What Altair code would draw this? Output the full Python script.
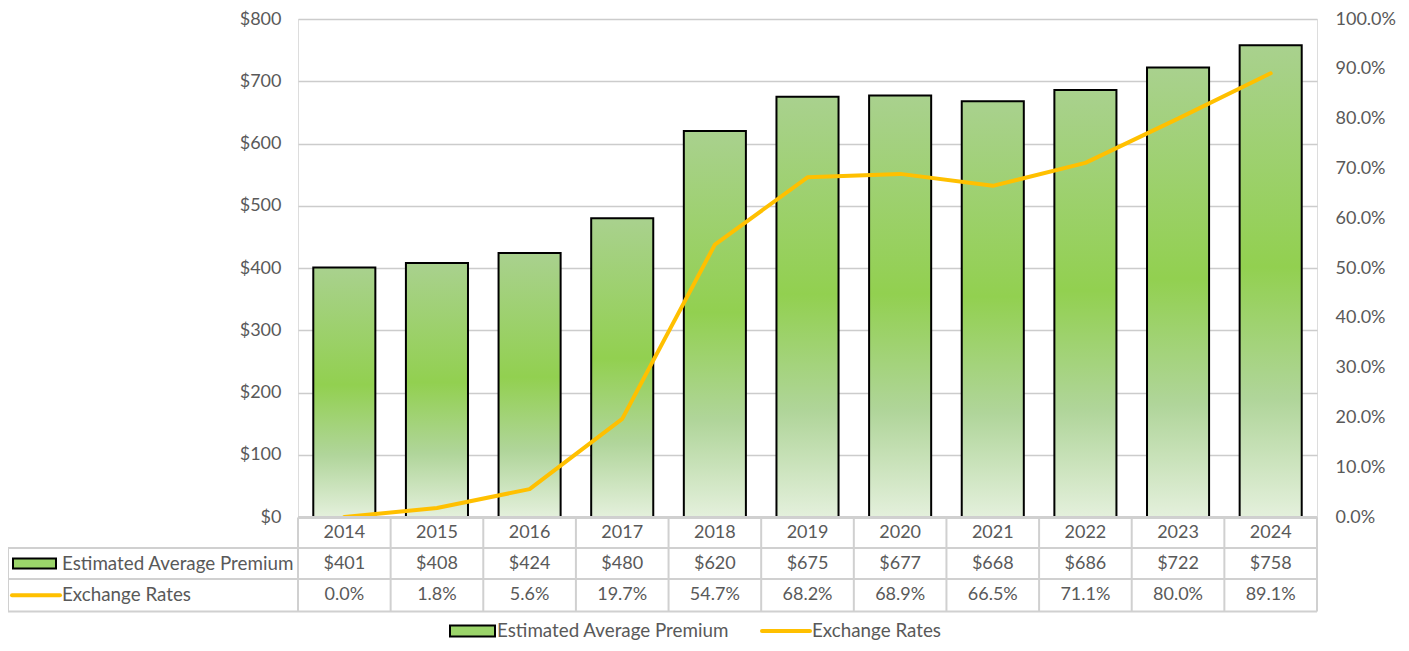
import altair as alt
import pandas as pd

years = ["2014", "2015", "2016", "2017", "2018", "2019", "2020", "2021", "2022", "2023", "2024"]
premium = [401, 408, 424, 480, 620, 675, 677, 668, 686, 722, 758]
rates = [0.000, 0.018, 0.056, 0.197, 0.547, 0.682, 0.689, 0.665, 0.711, 0.800, 0.891]
series_names = ["Estimated Average Premium", "Exchange Rates"]

n = len(years)
df = pd.DataFrame({
    "year": years,
    "premium": premium,
    "rate": rates,
    "xc": [i + 0.5 for i in range(n)],
    "x0": [i + 0.165 for i in range(n)],
    "x1": [i + 0.835 for i in range(n)],
    "prem_lbl": [f"${v}" for v in premium],
    "rate_lbl": [f"{v*100:.1f}%" for v in rates],
})
edges = pd.DataFrame({"e": list(range(n + 1))})

# plot area origin on page: (298, 19); plot bottom at page y 517
W, H = 1019, 498
FONT = "Lato"
TXT = "#595959"
GRID = "#cccccc"
BORDER = "#d0d0d0"
FS = 18
FS_NAME = 18.8

xs = alt.Scale(domain=[0, n], nice=False, zero=False)
X = lambda f: alt.X(f, type="quantitative", scale=xs, axis=None)

grad = alt.LinearGradient(
    gradient="linear", x1=0, y1=0, x2=0, y2=1,
    stops=[
        alt.GradientStop(offset=0, color="#a9d18e"),
        alt.GradientStop(offset=0.47, color="#92d050"),
        alt.GradientStop(offset=0.75, color="#b0d59a"),
        alt.GradientStop(offset=1, color="#e4f0dc"),
    ],
)

base = alt.Chart(df)

bars = base.mark_bar(fill=grad, stroke="black", strokeWidth=2).encode(
    x=X("x0"), x2="x1",
    y=alt.Y("premium:Q", scale=alt.Scale(domain=[0, 800], nice=False),
            axis=alt.Axis(values=list(range(0, 801, 100)), format="$,.0f", title=None,
                          grid=True, gridColor=GRID, gridWidth=1.5, domain=False, ticks=False,
                          labelPadding=17, labelFontSize=FS, labelColor=TXT, labelFont=FONT)),
    y2=alt.datum(0),
)

line = base.mark_line(color="#ffc000", strokeWidth=4, strokeCap="round", strokeJoin="round").encode(
    x=X("xc"),
    y=alt.Y("rate:Q", scale=alt.Scale(domain=[0, 1], nice=False),
            axis=alt.Axis(orient="right", values=[i / 10 for i in range(11)], format=".1%", title=None,
                          grid=False, domain=False, ticks=False, labelPadding=18,
                          labelFontSize=FS, labelColor=TXT, labelFont=FONT)),
)

# data table (y in plot coordinates: page y - 19)
Y_TOP, Y_R1, Y_R2, Y_BOT = 498.5, 529, 560, 592.5

def row_text(field, yv):
    return base.mark_text(font=FONT, fontSize=FS, color=TXT, baseline="middle").encode(
        x=X("xc"), y=alt.value(yv), text=f"{field}:N")

t_year = row_text("year", (Y_TOP + Y_R1) / 2)
t_prem = row_text("prem_lbl", (Y_R1 + Y_R2) / 2)
t_rate = row_text("rate_lbl", (Y_R2 + Y_BOT) / 2)

vlines = alt.Chart(edges).mark_rule(color=BORDER, strokeWidth=2).encode(
    x=X("e"), y=alt.value(Y_TOP), y2=alt.value(Y_BOT))

hl = pd.DataFrame({"y": [Y_R1, Y_R2, Y_BOT]})
hlines = alt.Chart(hl).mark_rule(color=BORDER, strokeWidth=2).encode(
    x=alt.value(-290), x2=alt.value(W), y=alt.Y("y:Q", scale=None))
top_line = alt.Chart(edges).mark_rule(color=BORDER, strokeWidth=2).encode(
    x=alt.value(0), x2=alt.value(W), y=alt.value(Y_TOP))
left_line = alt.Chart(edges).mark_rule(color=BORDER, strokeWidth=2).encode(
    x=alt.value(-290), y=alt.value(Y_R1), y2=alt.value(Y_BOT))

leg_df = pd.DataFrame({"name": series_names})
yr1 = (Y_R1 + Y_R2) / 2
yr2 = (Y_R2 + Y_BOT) / 2
name_prem = alt.Chart(leg_df.iloc[[0]]).mark_text(font=FONT, fontSize=FS_NAME, color=TXT, align="left", baseline="middle").encode(
    x=alt.value(-236), y=alt.value(yr1), text="name:N")
name_rate = alt.Chart(leg_df.iloc[[1]]).mark_text(font=FONT, fontSize=FS_NAME, color=TXT, align="left", baseline="middle").encode(
    x=alt.value(-236), y=alt.value(yr2), text="name:N")
sym_prem = alt.Chart(leg_df.iloc[[0]]).mark_rect(fill="#9bd46a", stroke="black", strokeWidth=2).encode(
    x=alt.value(-285), x2=alt.value(-242), y=alt.value(yr1 - 5), y2=alt.value(yr1 + 5))
sym_rate = alt.Chart(leg_df.iloc[[1]]).mark_rule(color="#ffc000", strokeWidth=4, strokeCap="round").encode(
    x=alt.value(-286), x2=alt.value(-238), y=alt.value(yr2))

# bottom legend
LY = 612
lg_rect = alt.Chart(leg_df.iloc[[0]]).mark_rect(fill="#9bd46a", stroke="black", strokeWidth=2).encode(
    x=alt.value(152), x2=alt.value(197), y=alt.value(LY - 5.5), y2=alt.value(LY + 5.5))
lg_t1 = alt.Chart(leg_df.iloc[[0]]).mark_text(font=FONT, fontSize=FS_NAME, color=TXT, align="left", baseline="middle").encode(
    x=alt.value(199), y=alt.value(LY), text="name:N")
lg_line = alt.Chart(leg_df.iloc[[1]]).mark_rule(color="#ffc000", strokeWidth=4, strokeCap="round").encode(
    x=alt.value(464), x2=alt.value(512), y=alt.value(LY))
lg_t2 = alt.Chart(leg_df.iloc[[1]]).mark_text(font=FONT, fontSize=FS_NAME, color=TXT, align="left", baseline="middle").encode(
    x=alt.value(514), y=alt.value(LY), text="name:N")

chart = alt.layer(
    bars, line,
    vlines, hlines, top_line, left_line,
    t_year, t_prem, t_rate,
    name_prem, name_rate, sym_prem, sym_rate,
    lg_rect, lg_t1, lg_line, lg_t2,
).resolve_scale(y="independent").properties(
    width=W, height=H,
    autosize=alt.AutoSizeParams(type="none"),
    padding={"left": 290, "top": 11, "right": 84, "bottom": 126},
).configure_view(stroke=None).configure(background="white")

chart.save("out.html", embed_options={"renderer": "svg", "actions": False})
